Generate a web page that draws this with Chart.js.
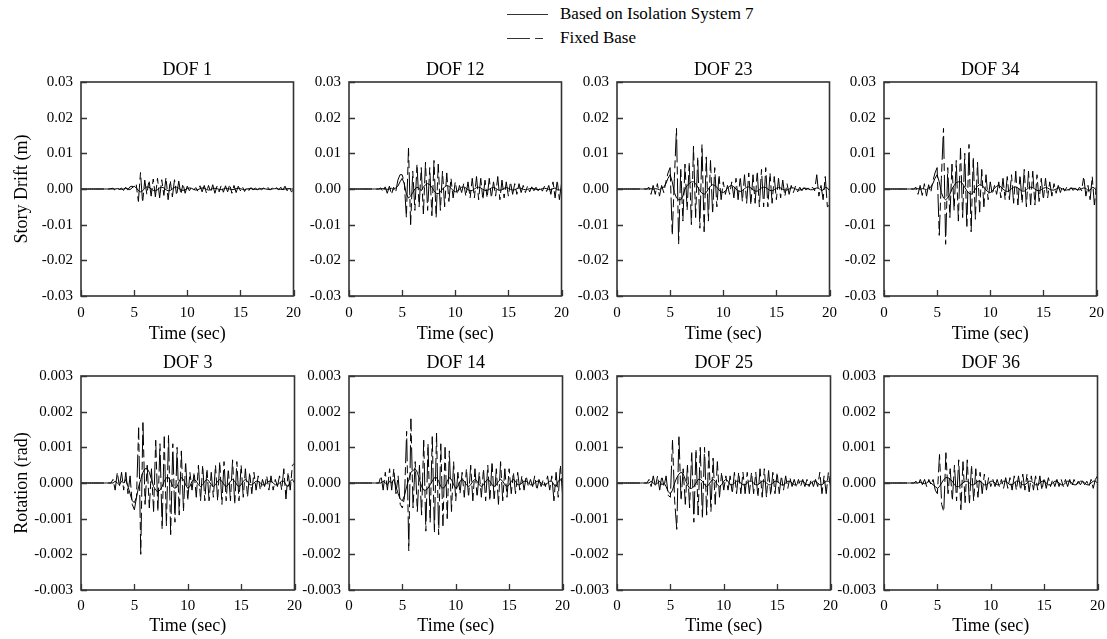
<!DOCTYPE html>
<html>
<head>
<meta charset="utf-8">
<script src="https://cdn.jsdelivr.net/npm/chart.js@4.4.1/dist/chart.umd.min.js"></script>
<style>
body { margin:0; width:1107px; height:639px; overflow:hidden; background:#fff; position:relative;
       font-family:"Liberation Serif","Times New Roman",serif; }
canvas { position:absolute; }
.leg { position:absolute; left:560px; font-size:17px; line-height:20px; color:#000; white-space:nowrap; }
</style>
</head>
<body>
<svg style="position:absolute;left:507px;top:0" width="45" height="50">
  <line x1="0" y1="14.5" x2="41" y2="14.5" stroke="#333" stroke-width="1.2"/>
  <line x1="0" y1="38.5" x2="41" y2="38.5" stroke="#333" stroke-width="1.2" stroke-dasharray="23 5 8 5"/>
</svg>
<div class="leg" style="top:4px">Based on Isolation System 7</div>
<div class="leg" style="top:28px">Fixed Base</div>
<script>
// sample times (sec)
var time = [0,0.2,0.4,0.6,0.8,1,1.2,1.4,1.6,1.8,2,2.2,2.4,2.6,2.8,3,3.2,3.4,3.6,3.8,4,4.2,4.4,4.6,4.8,
  5,5.2,5.4,5.6,5.8,6,6.2,6.4,6.6,6.8,7,7.2,7.4,7.6,7.8,8,8.2,8.4,8.6,8.8,9,9.2,9.4,9.6,9.8,
  10,10.2,10.4,10.6,10.8,11,11.2,11.4,11.6,11.8,12,12.2,12.4,12.6,12.8,13,13.2,13.4,13.6,13.8,14,14.2,14.4,14.6,14.8,
  15,15.2,15.4,15.6,15.8,16,16.2,16.4,16.6,16.8,17,17.2,17.4,17.6,17.8,18,18.2,18.4,18.6,18.8,19,19.2,19.4,19.6,19.8,20];

// story drift, mm
var fixedDOF1 = [0,0,0,0,0, 0,0,0,0,0, 0,0,0,0,0.1, 0.2,-0.3,0.4,-0.2,0.3, -0.4,0.5,-0.3,0.6,0.8,
  0.5,1.2,-3.5,4.6,-3.8, 2.5,-1.5,2.5,-2,2.8, -2.2,3,-2.5,2.6,-1.8, 3.2,-3,2.4,-2.2,2.6, -1.8,2.2,-1.5,1.5,-1.2,
  0.8,-0.5,0.5,-0.3,0.4, -0.6,0.9,-0.8,1,-1.1, 1,-0.9,1.2,-1.2,0.8, -0.8,1,-0.9,0.9,-0.8, 1.3,-1.2,1,-1,0.8,
  -0.5,0.6,-0.7,0.5,-0.4, 0.4,-0.3,0.3,-0.2,0.2, -0.2,0.3,-0.3,0.4,-0.3, 0.3,-0.2,0.4,-0.3,0.5, -0.3,0.8,-0.5,0.6,-0.8, -0.3];
var isoDOF1 = [0,0,0,0,0, 0,0,0,0,0, 0,0,0,0,0, 0,0,0.1,0,-0.1, 0,0.2,0.1,-0.2,0.3,
  0.8,0.3,-0.4,-0.8,-0.5, 0.2,0.6,0.5,0,-0.4, -0.5,-0.2,0.3,0.5,0.3, -0.2,-0.5,-0.4,0,0.4, 0.5,0.2,-0.2,-0.4,-0.2,
  0.1,0.3,0.2,-0.1,-0.3, -0.2,0.1,0.3,0.2,-0.1, -0.3,-0.2,0.1,0.2,0.1, -0.1,-0.2,0,0.2,0.1, 0,-0.2,-0.1,0.1,0.2,
  0.1,-0.1,-0.2,0,0.1, 0.1,0,-0.1,-0.1,0, 0.1,0.1,0,-0.1,-0.1, 0,0.1,0.1,0,-0.1, -0.1,0,0.1,0.1,0, 0];

var fixedDOF12 = [0,0,0,0,0, 0,0,0,0,0, 0,0,0,0,0, 0.3,-0.8,0.6,-1.2,0.8, -1.5,0.5,-0.8,2.5,4,
  4,2,-8,11.5,-10, 5,-6,7,-5,6, -7,7.5,-6,6,-7.5, 8,-8,7,-6,5, -5,4.5,-3.5,3,-2.5,
  2,-1.5,1,-1,1.5, -2,2,-2.5,3,-2.5, 3.5,-3,3,-3,2.5, -2.5,3,-2.5,2,-2, 3.5,-3,2.5,-2.5,2,
  -2,2,-1.5,1.5,-1.5, 1.5,-1,1,-1,0.8, -0.8,0.6,-0.5,0.5,-0.5, 0.5,-0.6,0.8,-0.7,1, -1.5,2,-2.5,2.5,-3, 1.5];
var isoDOF12 = [0,0,0,0,0, 0,0,0,0,0, 0,0,0,0,0, 0,0.1,0,-0.1,0, 0.2,-0.2,0.3,0.8,2,
  3,1.5,-1.5,-2.5,-2, -1,0,0.5,0.2,-0.5, 0.5,1.2,1.5,1.2,0.5, -0.5,-1.2,-1.3,-0.8,0, 0.6,1,0.8,0.2,-0.4,
  -0.8,-0.6,0,0.5,0.6, 0.3,-0.2,-0.5,-0.4,0, 0.4,0.5,0.3,-0.1,-0.4, -0.4,-0.1,0.3,0.4,0.2, -0.2,-0.4,-0.2,0.2,0.4,
  0.2,-0.1,-0.3,-0.2,0.1, 0.3,0.2,-0.1,-0.2,-0.1, 0.1,0.2,0.1,-0.1,-0.2, -0.1,0.1,0.2,0.1,-0.1, -0.2,0.1,0.3,-0.2,-0.3, 0];

var fixedDOF23 = [0,0,0,0,0, 0,0,0,0,0, 0,0,0,0,0, 0.5,-1.5,1,-1.5,1.5, -2,1,-1,2,4.5,
  6,-13,3,17,-15.5, 6,-9,7,-6,7.5, -10,12,-8,9,-11, 12.5,-12,9,-9,8, -7,6,-5,4,-3,
  2,-1.5,1,-1.5,2, -2.5,3,-3,3.5,-3.5, 4,-4,4.5,-4.5,4, -4,5,-5,5.5,-5, 6,-5,4.5,-4,3.5,
  -3,3,-2.5,2.5,-2, 1.5,-1.5,1,-1,0.8, -0.8,0.5,-0.5,0.4,-0.3, 0.3,-0.4,0.5,-0.5,4, -2,1,-3,3.5,-5, -4.5];
var isoDOF23 = [0,0,0,0,0, 0,0,0,0,0, 0,0,0,0,0, 0,0.1,-0.1,0.1,0, -0.2,0.3,0.5,1.5,3,
  4,2,-1,-2.5,-3, -3,-2,0,1,1.5, 2,2,1.5,0.5,-0.5, -1.2,-1.5,-1,0,0.8, 1.2,1,0.5,-0.3,-0.8,
  -1,-0.5,0.2,0.8,1, 0.6,0,-0.5,-0.7,-0.4, 0.1,0.5,0.6,0.3,-0.2, -0.6,-0.6,-0.2,0.3,0.5, 0.4,0,-0.4,-0.5,-0.2,
  0.2,0.4,0.3,-0.1,-0.3, -0.3,0,0.3,0.3,0, -0.2,-0.3,-0.1,0.2,0.2, 0,-0.2,-0.2,0.1,0.3, 0.2,-0.4,-0.3,0.5,0.3, -0.5];

var fixedDOF34 = [0,0,0,0,0, 0,0,0,0,0, 0,0,0,0,0, 0.5,-1.5,1,-1.8,1.5, -2,1.2,-1,2.2,4.5,
  6,-13,3,17,-15.5, 6,-8,7,-6,8, -9,11.5,-8,10,-11, 12.5,-12,9,-8.5,7.5, -6.5,5.5,-5,4,-3,
  2,-1.5,1,-1.5,2, -2.5,3,-3,3.5,-3, 4,-4,5,-4.5,4, -4,5.5,-5,5,-4.5, 5,-4.5,4,-3.5,3,
  -3,3,-2.5,2,-2, 1.5,-1.2,1,-1,0.8, -0.6,0.5,-0.5,0.4,-0.4, 0.3,-0.4,0.5,-0.5,3.5, -2,1,-3,3.5,-4.5, 1];
var isoDOF34 = [0,0,0,0,0, 0,0,0,0,0, 0,0,0,0,0, 0,0.1,-0.1,0.1,0, -0.2,0.3,0.5,1.5,3,
  4,2,-1,-2.5,-3, -2.5,-1.5,0,1,1.8, 2,2,1.5,0.5,-0.5, -1.2,-1.5,-1,0,0.8, 1.2,1,0.5,-0.3,-0.8,
  -1,-0.5,0.2,0.8,1, 0.6,0,-0.5,-0.7,-0.4, 0.1,0.5,0.6,0.3,-0.2, -0.6,-0.6,-0.2,0.3,0.5, 0.4,0,-0.4,-0.5,-0.2,
  0.2,0.4,0.3,-0.1,-0.3, -0.3,0,0.3,0.3,0, -0.2,-0.3,-0.1,0.2,0.2, 0,-0.2,-0.2,0.1,0.3, 0.2,-0.4,-0.3,0.5,0.3, -0.5];

// rotation, mrad
var fixedDOF3 = [0,0,0,0,0, 0,0,0,0,0, 0,0,0,0,0, 0.1,-0.2,0.3,-0.1,0.3, -0.2,0.3,-0.3,0.2,-0.6,
  -0.75,-0.4,1.55,-2,1.75, -0.6,0.5,-0.7,0.4,-0.8, 1.2,-0.8,1.1,-1.3,1.3, -1.2,1.35,-1.45,1.1,-1.1, 1,-0.9,0.9,-0.8,0.6,
  -0.5,0.3,-0.2,0.3,-0.4, 0.5,-0.5,0.5,-0.5,0.4, -0.5,0.3,-0.4,0.5,-0.5, 0.6,-0.6,0.6,-0.5,0.4, -0.5,0.65,-0.6,0.6,-0.5,
  0.5,-0.4,0.4,-0.4,0.3, -0.3,0.3,-0.2,0.2,-0.2, 0.1,-0.1,0.2,-0.2,0.2, -0.2,0.1,-0.1,0.2,-0.2, 0.4,-0.45,0.3,-0.2,0.5, 0.55];
var isoDOF3 = [0,0,0,0,0, 0,0,0,0,0, 0,0,0,0,0, 0,0.05,0,-0.05,0.05, 0,0.1,-0.1,-0.3,-0.5,
  -0.55,-0.4,-0.1,0.1,0.3, 0.4,0.4,0.3,0.1,-0.1, -0.2,-0.25,-0.2,-0.1,0.05, 0.15,0.15,0.05,-0.1,-0.15, -0.1,0.05,0.15,0.1,-0.05,
  -0.15,-0.1,0.05,0.1,0.05, -0.05,-0.1,-0.05,0.05,0.1, 0.05,-0.05,-0.1,-0.05,0.05, 0.1,0.05,-0.05,-0.1,-0.05, 0.05,0.1,0.05,-0.05,-0.1,
  -0.05,0.05,0.1,0.05,-0.05, -0.05,0,0.05,0.05,0, -0.05,-0.05,0,0.05,0.05, 0,-0.05,-0.05,0,0.05, 0.05,-0.05,-0.1,0.05,0.1, 0];

var fixedDOF14 = [0,0,0,0,0, 0,0,0,0,0, 0,0,0,0,0, 0.2,-0.2,0.3,-0.2,0.4, -0.2,0.4,-0.3,0.2,-0.6,
  -0.7,-0.4,1.45,-1.9,1.8, -0.7,0.6,-0.8,0.5,-0.9, 1.2,-1.35,1.1,-1.1,1.3, -1.4,1.4,-1.45,1.1,-1.2, 1,-1,0.9,-0.8,0.6,
  -0.5,0.3,-0.3,0.3,-0.4, 0.4,-0.4,0.5,-0.5,0.4, -0.4,0.3,-0.4,0.4,-0.5, 0.5,-0.5,0.6,-0.5,0.4, -0.6,0.6,-0.5,0.4,-0.4,
  0.4,-0.3,0.3,-0.3,0.3, -0.2,0.2,-0.2,0.2,-0.1, 0.1,-0.1,0.2,-0.2,0.1, -0.1,0.1,-0.1,0.2,-0.2, 0.2,-0.5,0.3,-0.4,0.5, -0.3];
var isoDOF14 = [0,0,0,0,0, 0,0,0,0,0, 0,0,0,0,0, 0,0.05,0,-0.05,0.05, 0,0.1,-0.1,-0.3,-0.45,
  -0.5,-0.35,-0.1,0.1,0.3, 0.35,0.4,0.3,0.1,-0.1, -0.2,-0.2,-0.15,-0.05,0.05, 0.15,0.15,0.05,-0.1,-0.15, -0.1,0.05,0.15,0.1,-0.05,
  -0.15,-0.1,0.05,0.1,0.05, -0.05,-0.1,-0.05,0.05,0.1, 0.05,-0.05,-0.1,-0.05,0.05, 0.1,0.05,-0.05,-0.1,-0.05, 0.05,0.1,0.05,-0.05,-0.1,
  -0.05,0.05,0.1,0.05,-0.05, -0.05,0,0.05,0.05,0, -0.05,-0.05,0,0.05,0.05, 0,-0.05,-0.05,0,0.05, 0.05,-0.05,-0.1,0.05,0.1, 0];

var fixedDOF25 = [0,0,0,0,0, 0,0,0,0,0, 0,0,0,0,0, 0.1,-0.1,0.2,-0.1,0.2, -0.2,0.2,-0.1,0.2,-0.35,
  -0.4,1.2,-0.5,-1.3,1.35, -0.5,0.4,-0.6,0.5,-0.7, 0.9,-1.1,0.95,-0.9,1, -1,1,-0.9,0.9,-0.8, 0.7,-0.6,0.6,-0.4,0.3,
  -0.2,0.2,-0.2,0.2,-0.3, 0.3,-0.3,0.3,-0.3,0.3, -0.3,0.3,-0.3,0.3,-0.3, 0.3,-0.4,0.4,-0.4,0.4, -0.4,0.35,-0.35,0.3,-0.3,
  0.3,-0.3,0.2,-0.2,0.2, -0.15,0.15,-0.1,0.1,-0.1, 0.1,-0.1,0.1,-0.1,0.1, -0.1,0.1,-0.1,0.1,-0.1, 0.3,-0.3,0.2,-0.3,0.3, -0.1];
var isoDOF25 = [0,0,0,0,0, 0,0,0,0,0, 0,0,0,0,0, 0,0.05,0,-0.05,0, 0.05,-0.05,0,-0.1,-0.25,
  -0.3,-0.2,0,0.15,0.25, 0.3,0.25,0.1,-0.05,-0.15, -0.15,-0.1,0,0.1,0.1, 0.05,-0.05,-0.1,-0.05,0.05, 0.1,0.05,-0.05,-0.1,-0.05,
  0.05,0.1,0.05,-0.05,-0.05, 0,0.05,0.05,0,-0.05, -0.05,0,0.05,0.05,0, -0.05,-0.05,0,0.05,0.05, 0,-0.05,-0.05,0,0.05,
  0.05,0,-0.05,-0.05,0, 0.05,0.05,0,-0.05,-0.05, 0,0.05,0.05,0,-0.05, -0.05,0,0.05,0.05,0, -0.05,-0.05,0,0.05,0.05, 0];

var fixedDOF36 = [0,0,0,0,0, 0,0,0,0,0, 0,0,0,0,0, 0.05,-0.05,0.1,-0.05,0.1, -0.1,0.1,-0.05,0.1,-0.2,
  -0.3,0.8,-0.6,-0.8,0.85, -0.3,0.4,-0.5,0.5,-0.5, 0.65,-0.75,0.6,-0.55,0.65, -0.6,0.5,-0.5,0.4,-0.4, 0.3,-0.3,0.25,-0.2,0.15,
  -0.1,0.1,-0.1,0.1,-0.1, 0.1,-0.15,0.15,-0.15,0.15, -0.2,0.2,-0.2,0.2,-0.2, 0.25,-0.2,0.25,-0.25,0.2, -0.2,0.2,-0.2,0.2,-0.2,
  0.15,-0.15,0.15,-0.1,0.1, -0.1,0.1,-0.1,0.1,-0.1, 0.1,-0.1,0.1,-0.1,0.1, -0.05,0.05,-0.05,0.05,-0.05, 0.05,-0.1,0.1,-0.15,0.1, 0.2];
var isoDOF36 = [0,0,0,0,0, 0,0,0,0,0, 0,0,0,0,0, 0,0,0.02,0,-0.02, 0,0.05,0,-0.05,-0.1,
  -0.15,-0.1,0,0.1,0.15, 0.15,0.1,0.05,-0.05,-0.1, -0.1,-0.05,0,0.05,0.05, 0,-0.05,-0.05,0,0.05, 0.05,0,-0.05,-0.05,0,
  0.05,0.05,0,-0.05,-0.05, 0,0.05,0.05,0,-0.05, -0.05,0,0.05,0.05,0, -0.05,-0.05,0,0.05,0.05, 0,-0.05,-0.05,0,0.05,
  0.05,0,-0.05,-0.05,0, 0.05,0.05,0,-0.05,-0.05, 0,0.05,0.05,0,-0.05, -0.05,0,0.05,0.05,0, -0.05,-0.05,0,0.05,0.05, 0];

var timeTicks = [0, 5, 10, 15, 20];
var driftTicks = [-0.03, -0.02, -0.01, 0, 0.01, 0.02, 0.03];
var rotTicks = [-0.003, -0.002, -0.001, 0, 0.001, 0.002, 0.003];

// layout of the 2x4 grid
var colLeft = [81, 349, 617, 884];
var rowTop = [82, 376];
var plotW = 214, plotH = 214;
var serif = '"Liberation Serif", "Times New Roman", serif';

var rows = [
  {ticks: driftTicks, dec: 2, yTitle: 'Story Drift (m)', titleGap: 12, xPad: 8, xTitlePad: 1},
  {ticks: rotTicks, dec: 3, yTitle: 'Rotation (rad)', titleGap: 13, xPad: 7, xTitlePad: 3}
];

var panels = [
  {title: 'DOF 1', fixed: fixedDOF1, iso: isoDOF1, row: 0, col: 0},
  {title: 'DOF 12', fixed: fixedDOF12, iso: isoDOF12, row: 0, col: 1},
  {title: 'DOF 23', fixed: fixedDOF23, iso: isoDOF23, row: 0, col: 2},
  {title: 'DOF 34', fixed: fixedDOF34, iso: isoDOF34, row: 0, col: 3},
  {title: 'DOF 3', fixed: fixedDOF3, iso: isoDOF3, row: 1, col: 0},
  {title: 'DOF 14', fixed: fixedDOF14, iso: isoDOF14, row: 1, col: 1},
  {title: 'DOF 25', fixed: fixedDOF25, iso: isoDOF25, row: 1, col: 2},
  {title: 'DOF 36', fixed: fixedDOF36, iso: isoDOF36, row: 1, col: 3}
];

// box, inward ticks and panel title
var framePlugin = {
  id: 'frame',
  afterDraw: function(chart, args, opts) {
    var ctx = chart.ctx, a = chart.chartArea, x = chart.scales.x, y = chart.scales.y;
    ctx.save();
    ctx.strokeStyle = '#333';
    ctx.lineWidth = 1.6;
    ctx.strokeRect(a.left, a.top, a.right - a.left, a.bottom - a.top);
    ctx.lineWidth = 1.3;
    ctx.beginPath();
    y.ticks.forEach(function(t) {
      var py = Math.round(y.getPixelForValue(t.value)) + 0.5;
      ctx.moveTo(a.left, py); ctx.lineTo(a.left + 6, py);
    });
    x.ticks.forEach(function(t) {
      var px = Math.round(x.getPixelForValue(t.value)) + 0.5;
      ctx.moveTo(px, a.bottom); ctx.lineTo(px, a.bottom - 6);
    });
    ctx.stroke();
    ctx.fillStyle = '#000';
    ctx.font = '18px ' + serif;
    ctx.textAlign = 'center';
    ctx.textBaseline = 'middle';
    ctx.fillText(opts.text, (a.left + a.right) / 2, a.top - opts.gap);
    ctx.restore();
  }
};

function makePanel(p) {
  var r = rows[p.row];
  var yw = p.col === 0 ? 81 : 50;
  var padR = 14, padT = 28, xh = 50;
  var cv = document.createElement('canvas');
  cv.width = yw + plotW + padR;
  cv.height = padT + plotH + xh;
  cv.style.left = (colLeft[p.col] - yw) + 'px';
  cv.style.top = (rowTop[p.row] - padT) + 'px';
  document.body.appendChild(cv);

  var pts = function(arr) {
    return time.map(function(t, i) { return {x: t, y: arr[i] / 1000}; });
  };

  new Chart(cv, {
    type: 'line',
    data: {
      datasets: [
        {label: 'Fixed Base', data: pts(p.fixed), borderColor: '#000', borderWidth: 1,
         borderDash: [23, 4, 8, 4], pointRadius: 0, tension: 0},
        {label: 'Based on Isolation System 7', data: pts(p.iso), borderColor: '#000', borderWidth: 1,
         pointRadius: 0, tension: 0}
      ]
    },
    options: {
      responsive: false,
      animation: false,
      devicePixelRatio: 1,
      layout: {padding: {top: padT, right: padR, left: 0, bottom: 0}},
      plugins: {
        legend: {display: false},
        tooltip: {enabled: false},
        frame: {text: p.title, gap: r.titleGap}
      },
      scales: {
        x: {
          type: 'linear', min: 0, max: 20,
          grid: {display: false, drawTicks: false, tickLength: 0},
          border: {display: false},
          afterBuildTicks: function(s) { s.ticks = timeTicks.map(function(v) { return {value: v}; }); },
          afterFit: function(s) { s.height = xh; },
          ticks: {color: '#000', font: {family: serif, size: 15}, padding: r.xPad, maxRotation: 0},
          title: {display: true, text: 'Time (sec)', color: '#000', font: {family: serif, size: 18},
                  padding: {top: 0, bottom: r.xTitlePad}}
        },
        y: {
          min: r.ticks[0], max: r.ticks[r.ticks.length - 1],
          grid: {display: false, drawTicks: false, tickLength: 0},
          border: {display: false},
          afterBuildTicks: function(s) { s.ticks = r.ticks.map(function(v) { return {value: v}; }); },
          afterFit: function(s) { s.width = yw; },
          ticks: {color: '#000', font: {family: serif, size: 15}, padding: 8,
                  callback: function(v) { return Number(v).toFixed(r.dec); }},
          title: {display: p.col === 0, text: r.yTitle, color: '#000', font: {family: serif, size: 18},
                  padding: {top: 11, bottom: 0}}
        }
      }
    },
    plugins: [framePlugin]
  });
}

panels.forEach(makePanel);
</script>
</body>
</html>
